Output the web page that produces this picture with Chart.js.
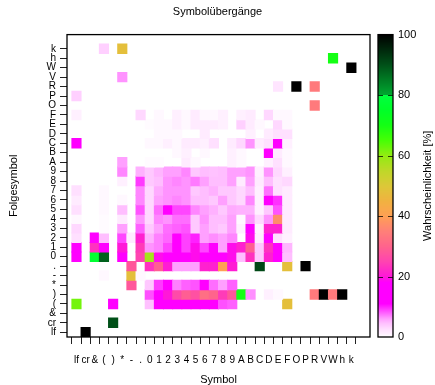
<!DOCTYPE html>
<html>
<head>
<meta charset="utf-8">
<script src="https://cdn.jsdelivr.net/npm/chart.js@4.4.1/dist/chart.umd.min.js"></script>
<style>
  body { margin: 0; background: #fff; }
  #wrap { width: 435px; height: 385px; }
</style>
</head>
<body>
<div id="wrap"><canvas id="uebergaenge"></canvas></div>
<script>
// Symbole (Spalten = Symbol, Zeilen = Folgesymbol)
const symbole = ['lf', 'cr', '&', '(', ')', '*', '-', '.', '0', '1', '2', '3', '4', '5', '6', '7', '8', '9',
    'A', 'B', 'C', 'D', 'E', 'F', 'O', 'P', 'R', 'V', 'W', 'h', 'k'];

// Wahrscheinlichkeit [%] je Folgesymbol (Zeile, von lf bis k) nach Symbol (Spalte)
//            lf cr  &   (   )   *   -   .    0   1   2   3   4   5   6   7   8   9    A   B   C   D   E   F    O   P   R   V   W   h   k
const werte = [
    /* lf */ [0, 100, 0, 0, 0, 0, 0, 0, 0, 0, 0, 0, 0, 0, 0, 0, 0, 0, 0, 0, 0, 0, 0, 0, 0, 0, 0, 0, 0, 0, 0],
    /* cr */ [0, 0, 0, 0, 90, 0, 0, 0, 0, 0, 0, 0, 0, 0, 0, 0, 0, 0, 0, 0, 0, 0, 0, 0, 0, 0, 0, 0, 0, 0, 0],
    /* &  */ [0, 0, 0, 0, 0, 0, 0, 0, 0, 0, 0, 0, 0, 0, 0, 0, 0, 0, 0, 0, 0, 0, 0, 0, 0, 0, 0, 0, 0, 0, 0],
    /* (  */ [62, 0, 0, 0, 11, 0, 0, 0, 4.5, 13, 13, 12, 13, 12, 13, 12, 8.5, 8, 0, 0, 0, 0, 0, 48, 0, 0, 0, 0, 0, 0, 0],
    /* )  */ [0, 0, 0, 0, 0, 0, 0, 0, 8.5, 12, 20, 26, 29, 27, 32, 30, 24, 28, 70, 6.5, 0, 1, 0.5, 0, 0, 0, 34, 100, 34, 100, 0],
    /* *  */ [0, 0, 0, 0, 0, 0, 28, 0, 4, 9.2, 13, 7, 8, 8.4, 13, 7.6, 6, 8, 0, 0, 0, 0, 0, 0, 0, 0, 0, 0, 0, 0, 0],
    /* -  */ [0, 0, 0, 0.5, 0, 0, 48, 0.5, 0, 0, 0, 0, 0, 0, 0, 0, 0, 0, 0, 0, 0, 0, 0, 0, 0, 0, 0, 0, 0, 0, 0],
    /* .  */ [0, 0, 0, 0, 0, 0, 28, 0, 23, 29, 20.5, 6, 6, 6, 21, 21, 40, 20.5, 0, 0, 91, 0, 0, 48, 0, 100, 0, 0, 0, 0, 0],
    /* 0  */ [12, 0, 77, 88, 0, 14, 0, 25, 58, 19, 14, 14, 14, 19, 14, 14, 14, 19, 4.6, 23, 4, 21, 15, 4.6, 0, 0, 0, 0, 0, 0, 0],
    /* 1  */ [12, 0, 23, 11, 0, 20, 0, 24, 6.4, 7, 8.8, 13, 9, 19, 8.8, 13, 6, 19, 21, 29, 4, 23, 13, 5, 0, 0, 0, 0, 0, 0, 0],
    /* 2  */ [2.5, 0, 13, 4.6, 0, 8.8, 1.5, 21, 5.2, 7, 7.8, 13, 9, 10, 6, 6.6, 6, 6.8, 0, 19, 1.5, 13, 2.5, 1, 0, 0, 0, 0, 0, 0, 0],
    /* 3  */ [3, 0, 0, 0.3, 0, 6, 0, 8, 4, 6, 7.6, 8, 8.4, 4, 6, 4.6, 4, 6, 1, 16, 1, 21, 21, 1.5, 0, 0, 0, 0, 0, 0, 0],
    /* 4  */ [0.5, 0, 0, 0.3, 0, 1.5, 0, 6.4, 3, 6.8, 6.4, 7.6, 7.6, 4, 6.4, 4.6, 4.6, 6, 0.5, 6.4, 3, 6.4, 37, 1.5, 0, 0, 0, 0, 0, 0, 0],
    /* 5  */ [2.5, 0, 0, 0.5, 0, 4.6, 0, 8.4, 3, 7.6, 12, 8.8, 8.8, 6.8, 6, 5.2, 4, 5.5, 5.2, 5.2, 1, 4, 8.4, 1.5, 0, 0, 0, 0, 0, 0, 0],
    /* 6  */ [1.5, 0, 0, 0.5, 0, 0.5, 0, 6.8, 3, 6, 6.4, 6.8, 6.4, 4.6, 4.6, 4, 6, 4, 3, 6.8, 1, 12, 9.5, 1.5, 0, 0, 0, 0, 0, 0, 0],
    /* 7  */ [2.5, 0, 0, 0.5, 0, 0, 0, 6.8, 3, 5.5, 6.4, 6.4, 6.4, 4, 4.6, 5.2, 4, 4, 3, 4.6, 1, 7.4, 2.5, 1.5, 0, 0, 0, 0, 0, 0, 0],
    /* 8  */ [0, 0, 0, 0, 0, 1, 0, 9.2, 4, 4.6, 6.4, 6.8, 6.4, 7.2, 6, 4.6, 4.6, 6, 1.5, 6, 1.5, 4.6, 2.5, 3, 0, 0, 0, 0, 0, 0, 0],
    /* 9  */ [0, 0, 0, 0, 0, 6.8, 0, 5.2, 4, 5, 6, 6, 6.8, 4, 4.6, 4.4, 4.6, 6, 6, 6.4, 1, 6.4, 3, 1, 0, 0, 0, 0, 0, 0, 0],
    /* A  */ [0, 0, 0, 0, 0, 6, 0, 0, 0.3, 0.3, 0, 0, 1.5, 0.5, 0, 0, 0, 1, 0.5, 0, 0, 1, 2.5, 0.5, 0, 0, 0, 0, 0, 0, 0],
    /* B  */ [0, 0, 0, 0, 0, 0, 0, 0, 0, 0, 0, 0.5, 1, 0, 0.5, 0, 0, 1, 0.5, 0, 0, 11, 1.5, 0.5, 0, 0, 0, 0, 0, 0, 0],
    /* C  */ [12, 0, 0, 0, 0, 0, 0, 0, 0.5, 0.5, 1, 0.5, 1.5, 1.5, 1, 2.5, 0, 1.5, 3, 6.4, 1.5, 2.5, 12, 1, 0, 0, 0, 0, 0, 0, 0],
    /* D  */ [0, 0, 0, 0, 0, 0, 0, 0, 0, 0.5, 0.5, 0.5, 0, 0, 1.5, 0, 0, 0, 0, 1, 0, 1.5, 2.5, 2.5, 0, 0, 0, 0, 0, 0, 0],
    /* E  */ [0, 0, 0, 0, 0, 0, 0, 0, 0.3, 0.5, 0.5, 1, 0.5, 1.5, 1.5, 1.5, 1, 0, 3.5, 1.5, 0.5, 0, 3, 0.5, 0, 0, 0, 0, 0, 0, 0],
    /* F  */ [1, 0, 0, 0, 0, 0, 0, 3, 0, 0.5, 0, 1, 0.5, 1.5, 0.5, 0.5, 1, 0, 1, 1.5, 0, 3, 0.5, 0.5, 0, 0, 0, 0, 0, 0, 0],
    /* O  */ [0, 0, 0, 0, 0, 0, 0, 0, 0, 0, 0, 0, 0, 0, 0, 0, 0, 0, 0, 0, 0, 0, 0, 0, 0, 0, 34, 0, 0, 0, 0],
    /* P  */ [3.5, 0, 0, 0, 0, 0, 0, 0, 0, 0, 0, 0, 0, 0, 0, 0, 0, 0, 0, 0, 0, 0, 0, 0, 0, 0, 0, 0, 0, 0, 0],
    /* R  */ [0, 0, 0, 0, 0, 0, 0, 0, 0, 0, 0, 0, 0, 0, 0, 0, 0, 0, 0, 0, 0, 0, 2, 0, 100, 0, 34, 0, 0, 0, 0],
    /* V  */ [0, 0, 0, 0, 0, 6.4, 0, 0, 0, 0, 0, 0, 0, 0, 0, 0, 0, 0, 0, 0, 0, 0, 0, 0, 0, 0, 0, 0, 0, 0, 0],
    /* W  */ [0, 0, 0, 0, 0, 0, 0, 0, 0, 0, 0, 0, 0, 0, 0, 0, 0, 0, 0, 0, 0, 0, 0, 0, 0, 0, 0, 0, 0, 0, 100],
    /* h  */ [0, 0, 0, 0, 0, 0, 0, 0, 0, 0, 0, 0, 0, 0, 0, 0, 0, 0, 0, 0, 0, 0, 0, 0, 0, 0, 0, 0, 70, 0, 0],
    /* k  */ [0, 0, 0, 3.5, 0, 48, 0, 0, 0, 0, 0, 0, 0, 0, 0, 0, 0, 0, 0, 0, 0, 0, 0, 0, 0, 0, 0, 0, 0, 0, 0]
];

// Beschriftung der Farbskala
const skalaTicks = [0, 20, 40, 60, 80, 100];

// Farbverlauf weiss -> magenta -> rosa -> orange -> gruen -> schwarz
const farbStufen = [
    [0, 255, 255, 255], [1, 255, 240, 255], [2.5, 255, 224, 255], [4.5, 255, 192, 255],
    [6, 255, 160, 255], [8, 255, 96, 255], [10, 255, 32, 255], [11, 255, 0, 255],
    [18, 255, 0, 255], [20, 255, 24, 216], [25, 255, 68, 176], [30, 255, 100, 140],
    [35, 255, 128, 120], [40, 255, 160, 84], [45, 240, 178, 64], [50, 220, 200, 56],
    [55, 190, 216, 40], [60, 146, 236, 18], [65, 70, 255, 5], [70, 20, 255, 20],
    [75, 0, 255, 40], [80, 0, 255, 64], [80.01, 0, 168, 48], [90, 0, 80, 24], [100, 0, 0, 0]
];

function farbe(v) {
    for (let k = 1; k < farbStufen.length; k++) {
        const a = farbStufen[k - 1], b = farbStufen[k];
        if (v <= b[0]) {
            const t = (v - a[0]) / (b[0] - a[0]);
            const c = [1, 2, 3].map(n => Math.round(a[n] + (b[n] - a[n]) * t));
            return `rgb(${c[0]}, ${c[1]}, ${c[2]})`;
        }
    }
    return 'rgb(0, 0, 0)';
}

const zellen = [];
werte.forEach((zeile, j) => {
    zeile.forEach((v, i) => {
        if (v > 0) zellen.push({ x: i, y: [j - 0.5, j + 0.5], v: v });
    });
});

Chart.defaults.font.family = "'Liberation Sans', Arial, sans-serif";
Chart.defaults.color = '#000';

const schrift = { size: 10 };
const titelSchrift = { size: 11 };

// Rahmen, Farbskala und deren Titel
const rahmen = {
    id: 'rahmen',
    afterDraw(chart) {
        const { ctx, chartArea: a } = chart;
        const skala = chart.scales.farbe;
        ctx.save();
        ctx.strokeStyle = '#000';
        ctx.lineWidth = 1.3;
        ctx.strokeRect(a.left, a.top, a.right - a.left, a.bottom - a.top);

        const x0 = a.right + 8, breite = 15;
        const oben = skala.getPixelForValue(100), unten = skala.getPixelForValue(0);
        for (let p = Math.floor(oben); p < unten; p++) {
            ctx.fillStyle = farbe(Math.min(100, Math.max(0, skala.getValueForPixel(p + 0.5))));
            ctx.fillRect(x0, p, breite, 1);
        }
        ctx.strokeStyle = 'rgba(0,0,0,0.75)';
        ctx.lineWidth = 1;
        skalaTicks.slice(1, -1).forEach(v => {
            const y = Math.round(skala.getPixelForValue(v)) + 0.5;
            ctx.beginPath();
            ctx.moveTo(x0, y); ctx.lineTo(x0 + 5, y);
            ctx.moveTo(x0 + breite - 5, y); ctx.lineTo(x0 + breite, y);
            ctx.stroke();
        });
        ctx.strokeStyle = '#000';
        ctx.lineWidth = 1.3;
        ctx.strokeRect(x0, oben, breite, unten - oben);

        ctx.translate(428, (oben + unten) / 2);
        ctx.rotate(-Math.PI / 2);
        ctx.fillStyle = '#000';
        ctx.font = "11px 'Liberation Sans', Arial, sans-serif";
        ctx.textAlign = 'center';
        ctx.textBaseline = 'middle';
        ctx.fillText('Wahrscheinlichkeit [%]', 0, 0);
        ctx.restore();
    }
};

new Chart(document.getElementById('uebergaenge'), {
    type: 'bar',
    data: {
        datasets: [{
            data: zellen,
            backgroundColor: c => farbe(c.raw.v),
            borderWidth: 0,
            barPercentage: 1,
            categoryPercentage: 1,
            inflateAmount: 0.5
        }]
    },
    options: {
        animation: false,
        responsive: true,
        maintainAspectRatio: false,
        events: [],
        plugins: {
            legend: { display: false },
            tooltip: { enabled: false },
            title: {
                display: true,
                text: 'Symbolübergänge',
                font: { size: 11, weight: 'normal' },
                color: '#000',
                padding: { top: 0, bottom: 15.8 }
            }
        },
        scales: {
            x: {
                type: 'linear',
                min: -0.5,
                max: 31.5,
                afterBuildTicks: s => { s.ticks = symbole.map((_, i) => ({ value: i })); },
                afterFit: s => { s.height = 48; },
                ticks: { autoSkip: false, maxRotation: 0, font: schrift, padding: 10, callback: v => symbole[v] },
                grid: { drawOnChartArea: false, tickLength: 7, color: '#222' },
                border: { display: false },
                title: { display: true, text: 'Symbol', font: { size: 11, lineHeight: 1 }, padding: { top: 0, bottom: 0 } }
            },
            y: {
                type: 'linear',
                min: -0.5,
                max: 31.5,
                afterBuildTicks: s => { s.ticks = symbole.map((_, i) => ({ value: i })); },
                afterFit: s => { s.width = 67; },
                ticks: { autoSkip: false, font: schrift, padding: 4, callback: v => symbole[v] },
                grid: { drawOnChartArea: false, tickLength: 7, color: '#222' },
                border: { display: false },
                title: { display: true, text: 'Folgesymbol', font: titelSchrift, padding: { top: 7, bottom: 0 } }
            },
            farbe: {
                type: 'linear',
                position: 'right',
                min: 0,
                max: 100,
                afterBuildTicks: s => { s.ticks = skalaTicks.map(v => ({ value: v })); },
                afterFit: s => { s.width = 65; },
                ticks: { font: titelSchrift, padding: 28 },
                grid: { display: false, drawTicks: false },
                border: { display: false }
            }
        }
    },
    plugins: [rahmen]
});
</script>
</body>
</html>
